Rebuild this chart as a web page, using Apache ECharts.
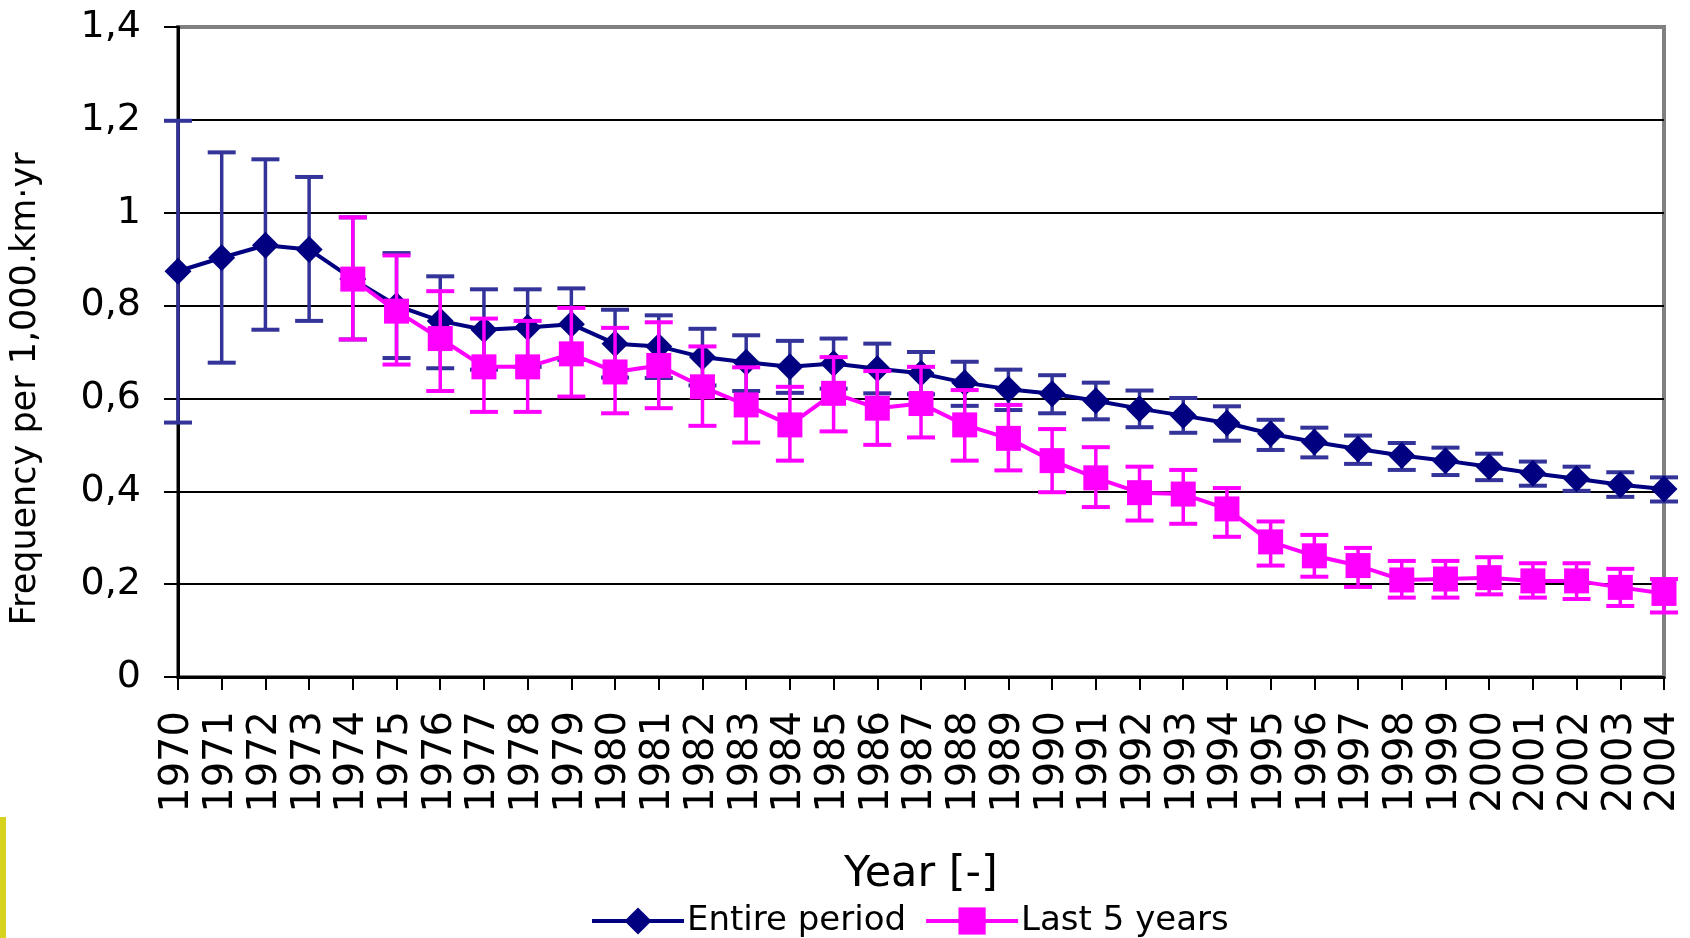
<!DOCTYPE html>
<html>
<head>
<meta charset="utf-8">
<script src="https://cdn.jsdelivr.net/npm/echarts@6/dist/echarts.min.js"></script>
<style>
html,body{margin:0;padding:0;background:#fff;}
#chart{width:1690px;height:938px;}
</style>
</head>
<body>
<div id="chart"></div>
<script>
const years = ['1970','1971','1972','1973','1974','1975','1976','1977','1978','1979','1980','1981','1982','1983','1984','1985','1986','1987','1988','1989','1990','1991','1992','1993','1994','1995','1996','1997','1998','1999','2000','2001','2002','2003','2004'];

const entireVal  = [0.874,0.903,0.930,0.921,0.857,0.800,0.767,0.748,0.753,0.760,0.718,0.712,0.689,0.678,0.668,0.675,0.664,0.654,0.634,0.620,0.610,0.595,0.578,0.563,0.547,0.524,0.506,0.491,0.477,0.466,0.453,0.439,0.427,0.414,0.405];
const entireLow  = [0.548,0.677,0.748,0.767,0.727,0.687,0.665,0.662,0.668,0.683,0.645,0.644,0.628,0.616,0.612,0.621,0.611,0.609,0.584,0.575,0.568,0.555,0.538,0.526,0.509,0.489,0.473,0.459,0.446,0.435,0.424,0.412,0.401,0.388,0.378];
const entireHigh = [1.198,1.130,1.115,1.077,0.990,0.913,0.863,0.835,0.835,0.837,0.791,0.779,0.750,0.736,0.724,0.729,0.718,0.700,0.679,0.662,0.650,0.634,0.617,0.601,0.583,0.554,0.537,0.520,0.504,0.494,0.481,0.464,0.453,0.441,0.430];

const lastVal  = [null,null,null,null,0.857,0.788,0.729,0.668,0.668,0.696,0.657,0.671,0.625,0.586,0.543,0.611,0.579,0.589,0.543,0.514,0.466,0.429,0.397,0.394,0.362,0.291,0.261,0.240,0.209,0.211,0.214,0.207,0.207,0.193,0.180];
const lastLow  = [null,null,null,null,0.727,0.673,0.616,0.571,0.571,0.604,0.568,0.579,0.541,0.505,0.466,0.529,0.500,0.516,0.466,0.445,0.398,0.366,0.337,0.330,0.302,0.240,0.216,0.194,0.171,0.171,0.178,0.171,0.168,0.153,0.139];
const lastHigh = [null,null,null,null,0.990,0.908,0.831,0.772,0.767,0.795,0.752,0.764,0.712,0.667,0.625,0.689,0.659,0.668,0.618,0.586,0.534,0.495,0.453,0.446,0.407,0.335,0.306,0.278,0.250,0.250,0.258,0.245,0.245,0.233,0.211];

const yTicks = ['0','0,2','0,4','0,6','0,8','1','1,2','1,4'];

const FONT = 'DejaVu Sans, Verdana, sans-serif';

function errData(low, high) {
  const out = [];
  for (let i = 0; i < years.length; i++) {
    if (low[i] != null && high[i] != null) out.push([i, low[i], high[i]]);
  }
  return out;
}

function errRender(color) {
  return function (params, api) {
    const x = api.value(0);
    const lo = api.coord([x, api.value(1)]);
    const hi = api.coord([x, api.value(2)]);
    const hw = 14;
    const st = { stroke: color, lineWidth: 3.5 };
    const cap = { stroke: color, lineWidth: 4 };
    return {
      type: 'group',
      children: [
        { type: 'line', shape: { x1: lo[0], y1: lo[1], x2: hi[0], y2: hi[1] }, style: st },
        { type: 'line', shape: { x1: lo[0] - hw, y1: lo[1], x2: lo[0] + hw, y2: lo[1] }, style: cap },
        { type: 'line', shape: { x1: hi[0] - hw, y1: hi[1], x2: hi[0] + hw, y2: hi[1] }, style: cap }
      ]
    };
  };
}

const chart = echarts.init(document.getElementById('chart'), null, { renderer: 'canvas' });

chart.setOption({
  backgroundColor: '#ffffff',
  animation: false,
  textStyle: { fontFamily: FONT },
  grid: {
    left: 177, right: 26, top: 27, bottom: 261,
    show: true, borderColor: '#808080', borderWidth: 4, backgroundColor: '#ffffff'
  },
  graphic: [
    { type: 'rect', left: 0, top: 817, shape: { width: 6, height: 121 }, style: { fill: '#d6d21e' } }
  ],
  legend: {
    data: ['Entire period', 'Last 5 years'],
    left: 585,
    top: 899,
    itemWidth: 92,
    itemHeight: 34,
    itemGap: 18,
    lineStyle: { width: 4 },
    textStyle: { fontSize: 34, color: '#000', fontFamily: FONT, padding: [0, 0, 0, -2] }
  },
  xAxis: {
    type: 'category',
    data: years,
    boundaryGap: false,
    name: 'Year [-]',
    nameLocation: 'middle',
    nameGap: 176,
    nameTextStyle: { fontSize: 43, color: '#000', fontFamily: FONT },
    axisLine: { lineStyle: { color: '#000', width: 3 } },
    axisTick: { show: true, length: 13, interval: 0, lineStyle: { color: '#000', width: 2 } },
    axisLabel: { interval: 0, rotate: 90, margin: 34, fontSize: 40, color: '#000', fontFamily: FONT },
    splitLine: { show: false }
  },
  yAxis: {
    type: 'value',
    min: 0, max: 1.4, interval: 0.2,
    name: 'Frequency per 1,000.km·yr',
    nameLocation: 'middle',
    nameGap: 135,
    nameTextStyle: { fontSize: 35, color: '#000', fontFamily: FONT, padding: [0, 74, 0, 0] },
    axisLine: { show: true, lineStyle: { color: '#000', width: 3 } },
    axisTick: { show: true, length: 14, lineStyle: { color: '#000', width: 2 } },
    axisLabel: {
      margin: 37, fontSize: 38, color: '#000', fontFamily: FONT,
      formatter: function (v) { return yTicks[Math.round(v / 0.2)]; }
    },
    splitLine: { show: true, lineStyle: { color: ['#000','#000','#000','#000','#000','#000','#000','#808080'], width: 2 } }
  },
  series: [
    {
      name: 'Entire period error',
      type: 'custom',
      renderItem: errRender('#333399'),
      data: errData(entireLow, entireHigh),
      encode: { x: 0, y: [1, 2] },
      z: 2
    },
    {
      name: 'Entire period',
      type: 'line',
      data: entireVal,
      symbol: 'diamond',
      symbolSize: 27,
      color: '#000080',
      itemStyle: { color: '#000080' },
      lineStyle: { color: '#000080', width: 4 },
      z: 3
    },
    {
      name: 'Last 5 years error',
      type: 'custom',
      renderItem: errRender('#ff00ff'),
      data: errData(lastLow, lastHigh),
      encode: { x: 0, y: [1, 2] },
      z: 4
    },
    {
      name: 'Last 5 years',
      type: 'line',
      data: lastVal,
      symbol: 'rect',
      symbolSize: 25,
      color: '#ff00ff',
      itemStyle: { color: '#ff00ff' },
      lineStyle: { color: '#ff00ff', width: 4 },
      z: 5
    }
  ]
});
</script>
</body>
</html>
